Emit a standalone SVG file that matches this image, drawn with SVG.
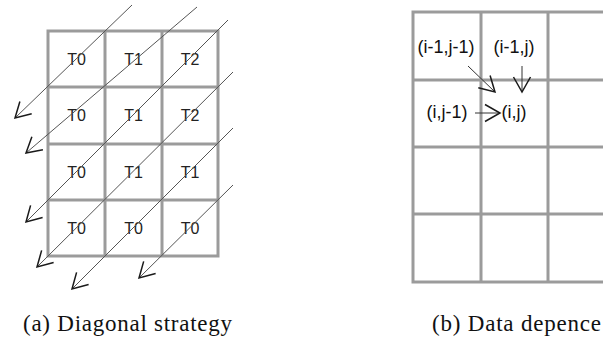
<svg xmlns="http://www.w3.org/2000/svg" width="603" height="338" viewBox="0 0 603 338">
<style>
.grid{fill:none;stroke:#9b9b9b;stroke-width:3}
.lbl{font-family:"Liberation Sans",Arial,sans-serif;font-size:16px;fill:#222;text-anchor:middle}
.dep{font-family:"Liberation Sans",Arial,sans-serif;font-size:18px;fill:#111;text-anchor:middle}
.cap{font-family:"Liberation Serif","Times New Roman",serif;font-size:23px;fill:#111}
.diag{stroke:#555;stroke-width:1;fill:none;marker-end:url(#v)}
.arr{stroke:#333;stroke-width:1;fill:none;marker-end:url(#v)}
</style>
<defs>
<marker id="v" markerUnits="userSpaceOnUse" markerWidth="40" markerHeight="40" refX="0" refY="0" orient="auto" overflow="visible">
<path d="M-15,-8.5 L0,0 L-15,8.5" fill="none" stroke="#1a1a1a" stroke-width="1.5"/>
</marker>
</defs>
<rect width="603" height="338" fill="#fff"/>
<g id="gridA">
<path class="grid" d="M48,31H218V256H48Z M105,31V256 M162,31V256 M48,87H218 M48,144H218 M48,200H218"/>
</g>
<g id="labelsA">
<g id="a11"><text class="lbl" x="76.5" y="65">T0</text></g>
<g id="a12"><text class="lbl" x="133.5" y="65">T1</text></g>
<g id="a13"><text class="lbl" x="190" y="65">T2</text></g>
<g id="a21"><text class="lbl" x="76.5" y="121">T0</text></g>
<g id="a22"><text class="lbl" x="133.5" y="121">T1</text></g>
<g id="a23"><text class="lbl" x="190" y="121">T2</text></g>
<g id="a31"><text class="lbl" x="76.5" y="178">T0</text></g>
<g id="a32"><text class="lbl" x="133.5" y="178">T1</text></g>
<g id="a33"><text class="lbl" x="190" y="178">T1</text></g>
<g id="a41"><text class="lbl" x="76.5" y="234">T0</text></g>
<g id="a42"><text class="lbl" x="133.5" y="234">T0</text></g>
<g id="a43"><text class="lbl" x="190" y="234">T0</text></g>
</g>
<g id="gridB">
<path class="grid" d="M603,12H413V282H603 M481,12V282 M548,12V282 M413,80H603 M413,147H603 M413,214H603"/>
</g>
<g id="labelsB">
<g id="b11"><text class="dep" x="446" y="53">(i-1,j-1)</text></g>
<g id="b12"><text class="dep" x="514" y="53">(i-1,j)</text></g>
<g id="b21"><text class="dep" x="447" y="118">(i,j-1)</text></g>
<g id="b22"><text class="dep" x="514" y="118">(i,j)</text></g>
</g>
<g id="connectors">
<line class="diag" x1="132" y1="5" x2="15" y2="118"/>
<line class="diag" x1="197" y1="7" x2="26" y2="153"/>
<line class="diag" x1="228" y1="20" x2="26" y2="222"/>
<line class="diag" x1="233" y1="72" x2="37" y2="267"/>
<line class="diag" x1="233" y1="128" x2="72" y2="289"/>
<line class="diag" x1="233" y1="185" x2="139" y2="278"/>
<line class="arr" x1="468" y1="66" x2="495" y2="92"/>
<line class="arr" x1="522" y1="66" x2="522" y2="92"/>
<line class="arr" x1="475" y1="113" x2="500" y2="113"/>
</g>
<g id="captions">
<text class="cap" x="23" y="331" textLength="209" lengthAdjust="spacing">(a) Diagonal strategy</text>
<text class="cap" x="432" y="331" textLength="169" lengthAdjust="spacing">(b) Data depence</text>
</g>
</svg>
